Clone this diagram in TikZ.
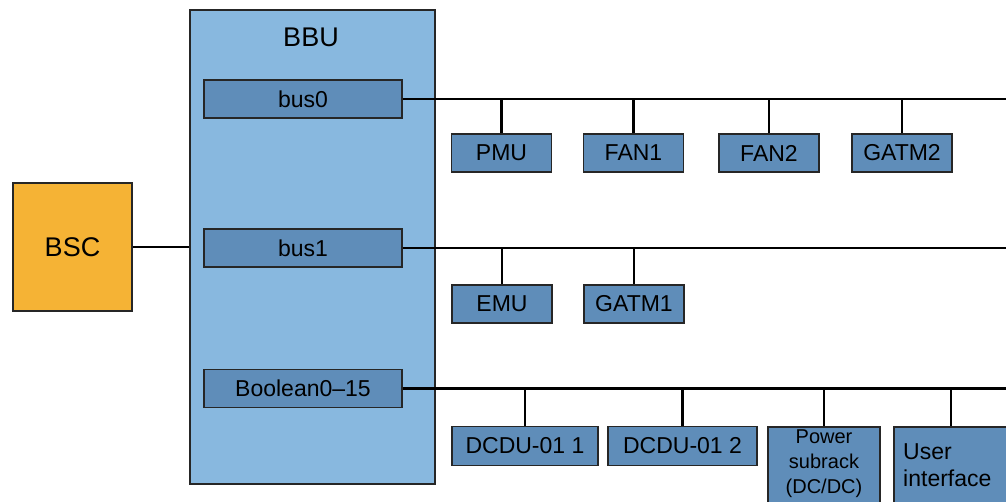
\documentclass[tikz,border=0pt]{standalone}
\usepackage{fontspec}
\setmainfont{Liberation Sans}
\definecolor{bbublue}{HTML}{88B8DF}
\definecolor{unitblue}{HTML}{5F8DB9}
\definecolor{bscorange}{HTML}{F5B335}
\tikzset{
	unit/.style={draw=black!85, line width=1.6pt, fill=unitblue, minimum width=100pt, minimum height=38pt, inner sep=0pt, font=\fontsize{23}{25}\selectfont},
	wire/.style={line width=2.9pt},
}

\begin{document}
\begin{tikzpicture}[x=1pt, y=-1pt]
	\useasboundingbox (0, 0) rectangle (1006, 502);
	\clip (0, 0) rectangle (1006, 502);
	\coordinate (rim) at (1010, 0);
	% BBU and its buses
	\node [unit, fill=bbublue, minimum width=245pt, minimum height=474pt] (bbu) at (312.5, 247) {};
	\node [font=\fontsize{27}{29}\selectfont] (bbulabel) at (311, 37) {BBU};
	\node [unit, minimum width=198pt] (bus0) at (303, 99) {bus0};
	\node [unit, minimum width=198pt] (bus1) at (303, 248) {bus1};
	\node [unit, minimum width=198pt] (bool) at (303, 388.5) {Boolean0–15\hspace{12pt}};
	\node [unit, fill=bscorange, minimum width=119pt, minimum height=128pt, font=\fontsize{27}{29}\selectfont] (bsc) at (72.5, 247) {BSC};
	\draw [wire] (bsc.east) -- (bsc.east -| bbu.west);
	\foreach \bus in {bus0, bus1, bool} {
		\draw [wire] (\bus.east) -- (\bus.east -| rim);
	}
	% boards on bus0 and bus1
	\foreach \name/\x in {PMU/501.5, FAN1/633.5, FAN2/769, GATM2/902} {
		\node [unit] (\name) at (\x, 153) {\name};
		\draw [wire] (\name.north) -- (\name |- bus0);
	}
	\foreach \name/\x in {EMU/502, GATM1/634} {
		\node [unit] (\name) at (\x, 304) {\name};
		\draw [wire] (\name.north) -- (\name |- bus1);
	}
	% boards on the Boolean bus
	\node [unit, minimum width=146pt, minimum height=39pt] (dcdu1) at (525, 446) {DCDU-01 1};
	\node [unit, minimum width=149pt, minimum height=39pt] (dcdu2) at (682.5, 446) {DCDU-01 2};
	\node [unit, minimum width=112pt, minimum height=82pt, anchor=north] (psub) at (824, 426) {};
	\node [align=center, inner sep=0pt, anchor=north, font=\fontsize{20}{25}\selectfont] (psubtext) at (824, 430) {Power\\subrack\\(DC/DC)};
	\node [unit, minimum width=114pt, minimum height=82pt, anchor=north] (uif) at (951, 426) {};
	\node [align=left, inner sep=0pt, anchor=north west, font=\fontsize{23}{27}\selectfont] (uiftext) at (903, 443) {User\\interface};
	\foreach \board in {dcdu1, dcdu2, psub, uif} {
		\draw [wire] (\board.north) -- (\board |- bool);
	}
\end{tikzpicture}
\end{document}
